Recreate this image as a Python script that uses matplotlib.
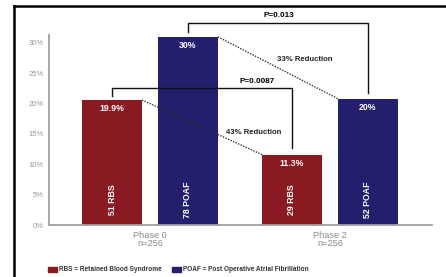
import matplotlib
matplotlib.use('Agg')
import matplotlib.pyplot as plt
from matplotlib.lines import Line2D
from matplotlib.patches import Rectangle

plt.rcParams['font.family'] = ['Liberation Sans', 'DejaVu Sans']

# data
phases = ['Phase 0\nn=256', 'Phase 2\nn=256']
rbs = [20.6, 11.6]
poaf = [31.0, 20.8]
rbs_labels = ['19.9%', '11.3%']
poaf_labels = ['30%', '20%']
rbs_counts = ['51 RBS', '29 RBS']
poaf_counts = ['78 POAF', '52 POAF']
yticks = [0, 5, 10, 15, 20, 25, 30]

red = '#8a1a22'
navy = '#241f6d'

fig = plt.figure(figsize=(4.46, 2.77), dpi=100)
ax = fig.add_axes([0.1099, 0.1877, 0.8587, 0.6859])

w = 0.333
off = 0.211
xs = [0, 1]
for i in xs:
    ax.bar(i - off, rbs[i], w, color=red)
    ax.bar(i + off, poaf[i], w, color=navy)
    ax.text(i - off, rbs[i] - 1.4, rbs_labels[i], ha='center', va='center',
            color='white', fontsize=6.3, fontweight='bold')
    ax.text(i + off, poaf[i] - 1.4, poaf_labels[i], ha='center', va='center',
            color='white', fontsize=6.3, fontweight='bold')
    ax.text(i - off, 4.1, rbs_counts[i], ha='center', va='center', rotation=90,
            color='white', fontsize=6.3, fontweight='bold')
    ax.text(i + off, 4.1, poaf_counts[i], ha='center', va='center', rotation=90,
            color='white', fontsize=6.3, fontweight='bold')

ax.set_xlim(-0.561, 1.567)
ax.set_ylim(0, 31.3)
ax.set_yticks(yticks)
ax.set_yticklabels(['%d%%' % t for t in yticks])
ax.set_xticks(xs)
ax.set_xticklabels(phases)
ax.tick_params(axis='y', length=0, labelsize=5.5, labelcolor='#999999', pad=4)
ax.tick_params(axis='x', length=0, labelsize=6.6, labelcolor='#8a8a8a', pad=4)
for t in ax.get_xticklabels():
    t.set_linespacing(0.95)
for s in ['top', 'right']:
    ax.spines[s].set_visible(False)
for s in ['left', 'bottom']:
    ax.spines[s].set_color('#a0a0a0')
    ax.spines[s].set_linewidth(1.3)

# bracket P=0.013 (POAF phase 0 -> POAF phase 2)
top1 = 33.3
ax.plot([off, off, 1 + off, 1 + off], [poaf[0] + 0.8, top1, top1, poaf[1] + 1.0],
        color='#111111', lw=1.0, clip_on=False)
ax.text(0.717, top1 + 0.6, 'P=0.013', ha='center', va='bottom',
        fontsize=5.9, fontweight='bold', clip_on=False)

# bracket P=0.0087 (RBS phase 0 -> RBS phase 2)
top2 = 22.5
ax.plot([-off, -off, 1 - off, 1 - off], [rbs[0] + 0.7, top2, top2, rbs[1] + 1.1],
        color='#111111', lw=1.0)
ax.text(0.594, top2 + 0.5, 'P=0.0087', ha='center', va='bottom',
        fontsize=5.9, fontweight='bold')

# dotted reduction lines
ax.plot([off + w / 2, 1 + off - w / 2], [poaf[0], poaf[1]], color='#333333',
        lw=1.0, ls=(0, (1, 1)))
ax.plot([-off + w / 2, 1 - off - w / 2], [rbs[0], rbs[1]], color='#333333',
        lw=1.0, ls=(0, (1, 1)))
ax.text(0.861, 27.3, '33% Reduction', ha='center', va='center',
        fontsize=5.6, fontweight='bold', color='#222222')
ax.text(0.578, 15.3, '43% Reduction', ha='center', va='center',
        fontsize=5.6, fontweight='bold', color='#222222')

# legend
fig.add_artist(Rectangle((48 / 446, 1 - 272 / 277), 9 / 446, 5 / 277,
                         transform=fig.transFigure, color=red))
fig.text(59 / 446, 1 - 269.5 / 277, 'RBS = Retained Blood Syndrome', fontsize=4.7,
         fontweight='bold', color='#333333', va='center')
fig.add_artist(Rectangle((172 / 446, 1 - 272 / 277), 9 / 446, 5 / 277,
                         transform=fig.transFigure, color=navy))
fig.text(183 / 446, 1 - 269.5 / 277, 'POAF = Post Operative Atrial Fibrillation',
         fontsize=4.7, fontweight='bold', color='#333333', va='center')

# outer frame (top and left)
fig.add_artist(Line2D([13.5 / 446, 1], [1 - 5.5 / 277, 1 - 5.5 / 277],
                      transform=fig.transFigure, color='black', lw=1.8))
fig.add_artist(Line2D([13.5 / 446, 13.5 / 446], [0, 1 - 5.5 / 277],
                      transform=fig.transFigure, color='black', lw=1.8))

fig.savefig('out.png', dpi=100)
